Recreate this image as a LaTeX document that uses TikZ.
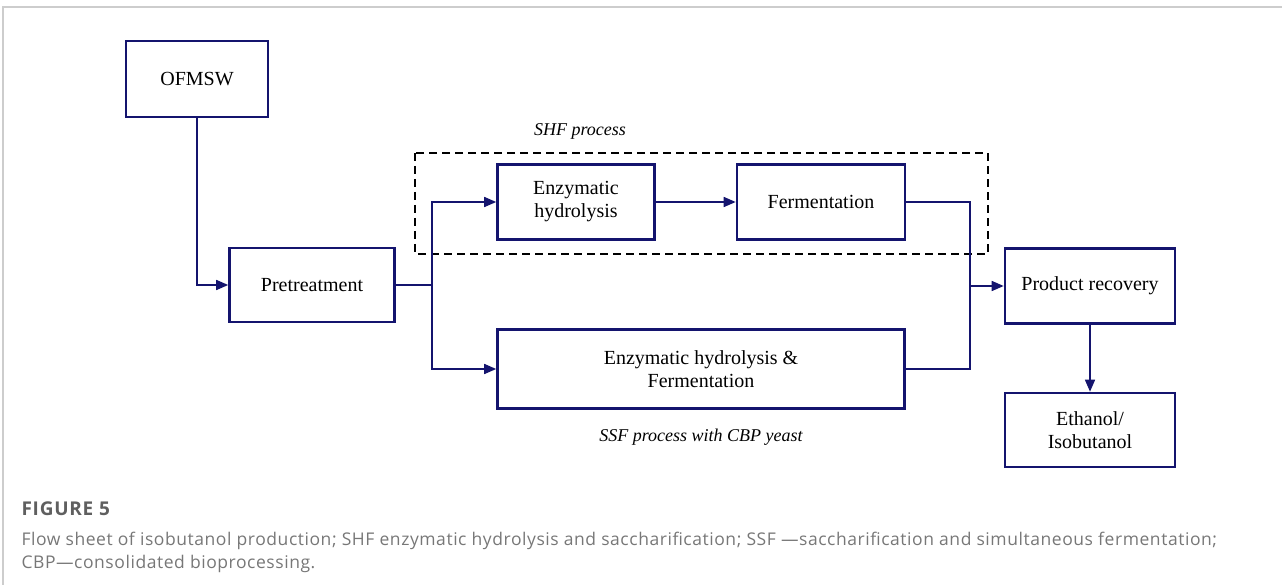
\documentclass[tikz,border=0pt]{standalone}
\usepackage{xcolor}
\usepackage{fontspec}
\setmainfont{Liberation Serif}
\newfontfamily\capfont[LetterSpace=3.2]{Open Sans}
\newfontfamily\capheadfont[LetterSpace=4]{Open Sans}
\usepackage{tikz}
\usetikzlibrary{arrows.meta}

\definecolor{navy}{RGB}{20,20,110}
\definecolor{framegray}{RGB}{205,205,205}
\definecolor{capgray}{RGB}{95,95,95}

\tikzset{
  procbox/.style={draw=navy,line width=2.6pt,fill=white,align=center,
    inner sep=0pt,font=\fontsize{20}{23}\selectfont},
  flow/.style={draw=navy,line width=1.5pt,-{Triangle[length=12pt,width=10pt]}},
  link/.style={draw=navy,line width=1.5pt},
  grouplabel/.style={font=\fontsize{18}{21}\selectfont\itshape}
}

\begin{document}
\begin{tikzpicture}[x=1pt,y=-1pt]
        \useasboundingbox (0,0) rectangle (1282,585);
        % frame of the figure
        \draw[framegray,line width=1.2pt] (3,585) -- (3,7) -- (1282,7);
        % process boxes
        \node[procbox,minimum width=142pt,minimum height=76pt] (ofmsw) at (197,79) {OFMSW};
        \node[procbox,minimum width=165pt,minimum height=74pt] (pre) at (312,285) {Pretreatment};
        \node[procbox,minimum width=157pt,minimum height=75pt] (enz) at (576,202) {Enzymatic\\hydrolysis};
        \node[procbox,minimum width=168pt,minimum height=75pt] (ferm) at (821,202) {Fermentation};
        \node[procbox,minimum width=407pt,minimum height=79pt] (ssf) at (701,369) {Enzymatic hydrolysis \&\\Fermentation};
        \node[procbox,minimum width=170pt,minimum height=75pt] (rec) at (1090,286) {Product recovery};
        \node[procbox,minimum width=170pt,minimum height=74pt] (eth) at (1090,430) {Ethanol/\\Isobutanol};
        % SHF group
        \draw[black,line width=2.6pt,dash pattern=on 8pt off 5pt] (415,153) rectangle (988,254);
        \node[grouplabel] (shf) at (580,131) {SHF process};
        \node[grouplabel] (ssflab) at (701,437) {SSF process with CBP yeast};
        % connectors
        \coordinate (split) at (432,285);
        \coordinate (merge) at (970,286);
        \draw[flow] (ofmsw.south) |- (pre.west);
        \draw[link] (pre.east) -- (split);
        \draw[flow] (split) |- (enz.west);
        \draw[flow] (split) |- (ssf.west);
        \draw[flow] (enz.east) -- (ferm.west);
        \draw[link] (ferm.east) -| (merge);
        \draw[link] (ssf.east) -| (merge);
        \draw[flow] (merge) -- (rec.west);
        \draw[flow] (rec.south) -- (eth.north);
        % caption
        \node[anchor=west,text=capgray,font=\capheadfont\bfseries\fontsize{19}{22}\selectfont] (fig) at (18,509) {FIGURE 5};
        \node[anchor=west,text=capgray!85,font=\capfont\fontsize{17.5}{20}\selectfont] (cap1) at (18,541) {Flow sheet of isobutanol production; SHF enzymatic hydrolysis and saccharification; SSF \textemdash saccharification and simultaneous fermentation;};
        \node[anchor=west,text=capgray!85,font=\capfont\fontsize{17.5}{20}\selectfont] (cap2) at (18,564) {CBP\textemdash consolidated bioprocessing.};
\end{tikzpicture}
\end{document}
